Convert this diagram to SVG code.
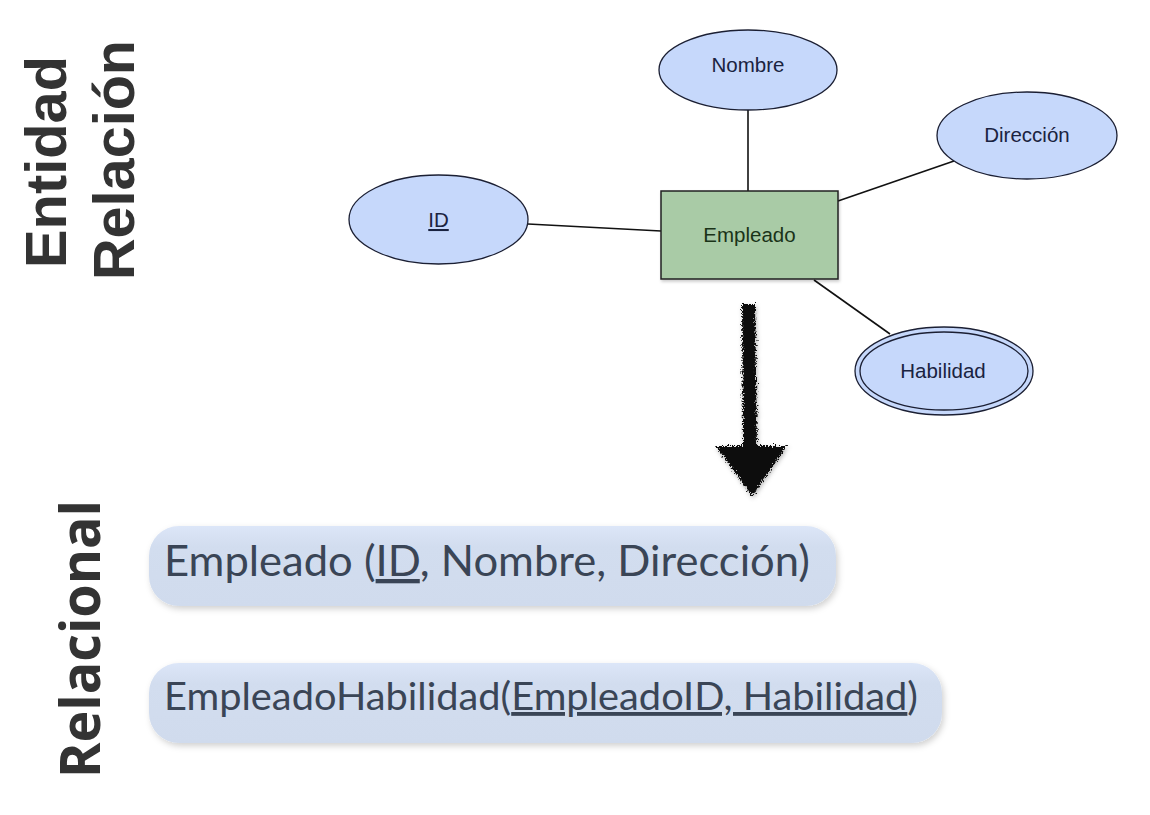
<svg xmlns="http://www.w3.org/2000/svg" width="1150" height="815" viewBox="0 0 1150 815">
  <style>
    .attr { fill: #c6d8fb; stroke: #1b1f33; stroke-width: 1.3; }
    .lbl { font-family: "Liberation Sans", Arial, sans-serif; font-size: 20.5px; fill: #1a2340; text-anchor: middle; }
    .conn { stroke: #111; stroke-width: 1.6; fill: none; }
    .side { font-family: "Liberation Sans", Arial, sans-serif; font-weight: bold; font-size: 58px; fill: #333; }
    .pill { fill: url(#pillGrad); filter: url(#shadow); }
    .ptxt { font-family: Lato, "Noto Sans", sans-serif; fill: #3a4556; }
  </style>
  <defs>
    <linearGradient id="pillGrad" x1="0" y1="0" x2="0" y2="1">
      <stop offset="0" stop-color="#dce6f8"/>
      <stop offset="0.25" stop-color="#d2ddef"/>
      <stop offset="1" stop-color="#d0dbed"/>
    </linearGradient>
    <filter id="shadow" x="-5%" y="-20%" width="110%" height="150%">
      <feDropShadow dx="2" dy="3" stdDeviation="3" flood-color="#000" flood-opacity="0.18"/>
    </filter>
    <filter id="boxShadow" x="-10%" y="-10%" width="130%" height="130%">
      <feDropShadow dx="1" dy="2" stdDeviation="1.5" flood-color="#000" flood-opacity="0.2"/>
    </filter>
    <filter id="rough" x="-20%" y="-10%" width="140%" height="120%">
      <feTurbulence type="fractalNoise" baseFrequency="0.6" numOctaves="3" seed="7" result="n"/>
      <feDisplacementMap in="SourceGraphic" in2="n" scale="8" xChannelSelector="R" yChannelSelector="G" result="d"/>
      <feDropShadow dx="1" dy="2" stdDeviation="2" flood-color="#000" flood-opacity="0.3"/>
    </filter>
  </defs>

  <rect width="1150" height="815" fill="#ffffff"/>

  <!-- side labels -->
  <text class="side" transform="translate(66,268) rotate(-90)" textLength="212" lengthAdjust="spacingAndGlyphs">Entidad</text>
  <text class="side" transform="translate(134,280) rotate(-90)" textLength="240" lengthAdjust="spacingAndGlyphs">Relación</text>
  <text transform="translate(100,778) rotate(-90)" font-family="'Open Sans', 'Noto Sans', sans-serif" font-weight="bold" font-size="56" fill="#333" textLength="278" lengthAdjust="spacingAndGlyphs">Relacional</text>

  <!-- connectors -->
  <g id="connectors">
    <line class="conn" x1="748" y1="110" x2="748" y2="191"/>
    <line class="conn" x1="528" y1="224" x2="661" y2="231"/>
    <line class="conn" x1="838" y1="201" x2="954" y2="161"/>
    <line class="conn" x1="814" y1="280" x2="890" y2="334"/>
  </g>

  <g id="node-empleado">
    <rect x="661" y="191" width="177" height="88" fill="#a9cba6" stroke="#222" stroke-width="1.5" filter="url(#boxShadow)"/>
    <text class="lbl" x="749.5" y="242" style="fill:#1a3318">Empleado</text>
  </g>

  <g id="node-nombre">
    <ellipse class="attr" cx="748" cy="70" rx="89" ry="40"/>
    <text class="lbl" x="748" y="72">Nombre</text>
  </g>

  <g id="node-direccion">
    <ellipse class="attr" cx="1027" cy="135.5" rx="90" ry="43.5"/>
    <text class="lbl" x="1027" y="142">Dirección</text>
  </g>

  <g id="node-id">
    <ellipse class="attr" cx="438.5" cy="219.5" rx="89.5" ry="44.5"/>
    <text class="lbl" x="438.5" y="227" text-decoration="underline">ID</text>
  </g>

  <g id="node-habilidad">
    <ellipse class="attr" cx="944" cy="371" rx="89" ry="44"/>
    <ellipse fill="none" stroke="#1b1f33" stroke-width="1.3" cx="944" cy="371" rx="84" ry="39"/>
    <text class="lbl" x="943" y="378">Habilidad</text>
  </g>

  <!-- transformation arrow -->
  <g id="arrow" filter="url(#rough)">
    <polygon points="742,304 755,304 757,446 787,446 752,496 716,446 743,446" fill="#0a0a0a"/>
  </g>

  <!-- relational pills -->
  <g id="pill-empleado">
    <rect class="pill" x="149" y="526" width="687" height="80" rx="30" ry="30"/>
    <text class="ptxt" x="164" y="576" font-size="43" textLength="646" lengthAdjust="spacingAndGlyphs">Empleado (<tspan text-decoration="underline">ID</tspan>, Nombre, Dirección)</text>
  </g>

  <g id="pill-empleadohabilidad">
    <rect class="pill" x="149" y="663" width="793" height="80" rx="30" ry="30"/>
    <text class="ptxt" x="164" y="710" font-size="38.5" textLength="754" lengthAdjust="spacingAndGlyphs">EmpleadoHabilidad(<tspan text-decoration="underline">EmpleadoID, Habilidad</tspan>)</text>
  </g>
</svg>
